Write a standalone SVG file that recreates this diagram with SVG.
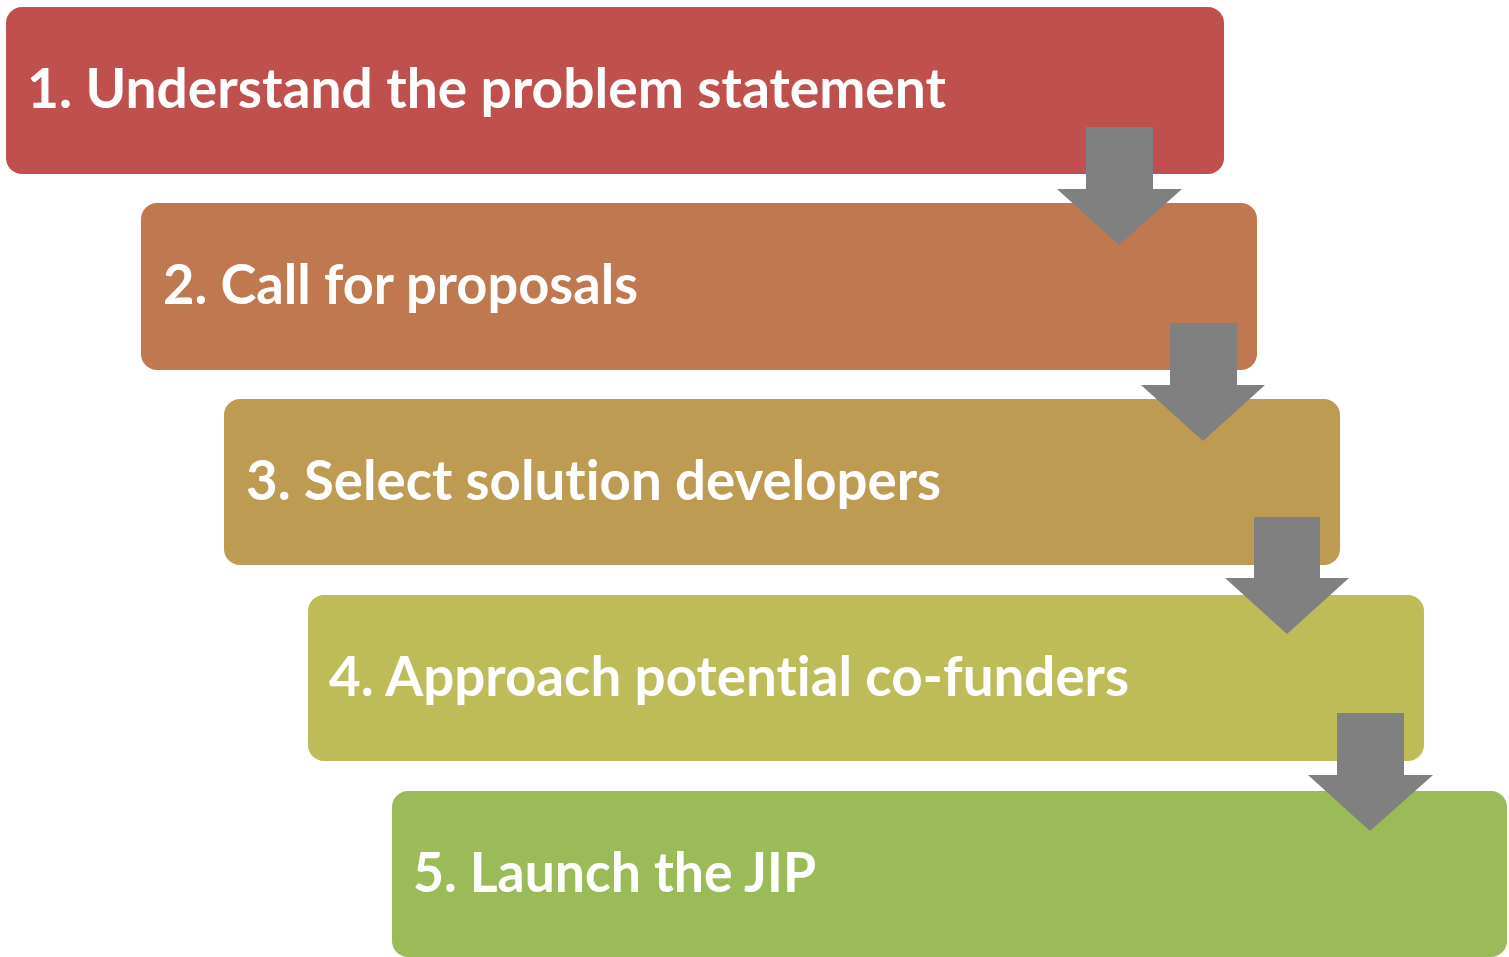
<svg xmlns="http://www.w3.org/2000/svg" width="1509" height="957" viewBox="0 0 1509 957">
<style>
.lbl{font-family:Lato,"Open Sans","Liberation Sans",sans-serif;font-weight:700;font-size:55px;fill:#FFFFFF;font-variant-ligatures:none;font-feature-settings:"liga" 0,"clig" 0}
.arr{fill:#808080}
</style>
<rect x="0" y="0" width="1509" height="957" fill="#FFFFFF"/>
<g id="step1">
<rect x="6" y="7" width="1218" height="167" rx="16" ry="16" fill="#C0504D"/>
<text class="lbl" x="27" y="108" textLength="919" lengthAdjust="spacingAndGlyphs">1. Understand the problem statement</text>
</g>
<g id="step2">
<rect x="141" y="203" width="1116" height="167" rx="16" ry="16" fill="#BF7850"/>
<text class="lbl" x="163" y="304" textLength="475" lengthAdjust="spacingAndGlyphs">2. Call for proposals</text>
</g>
<g id="step3">
<rect x="224" y="399" width="1116" height="166" rx="16" ry="16" fill="#BE9B52"/>
<text class="lbl" x="246" y="500" textLength="695" lengthAdjust="spacingAndGlyphs">3. Select solution developers</text>
</g>
<g id="step4">
<rect x="308" y="595" width="1116" height="166" rx="16" ry="16" fill="#BEBC58"/>
<text class="lbl" x="329" y="696" textLength="800" lengthAdjust="spacingAndGlyphs">4. Approach potential co-funders</text>
</g>
<g id="step5">
<rect x="392" y="791" width="1115" height="166" rx="16" ry="16" fill="#9BBB59"/>
<text class="lbl" x="413" y="892" textLength="403" lengthAdjust="spacingAndGlyphs">5. Launch the JIP</text>
</g>
<g id="connectors">
<polygon class="arr" points="1086,127 1153,127 1153,189 1182,189 1119,245 1057,189 1086,189"/>
<polygon class="arr" points="1170,323 1237,323 1237,385 1265,385 1203,441 1141,385 1170,385"/>
<polygon class="arr" points="1254,517 1320,517 1320,578 1349,578 1287,634 1225,578 1254,578"/>
<polygon class="arr" points="1337,713 1404,713 1404,775 1433,775 1370,831 1308,775 1337,775"/>
</g>
</svg>
